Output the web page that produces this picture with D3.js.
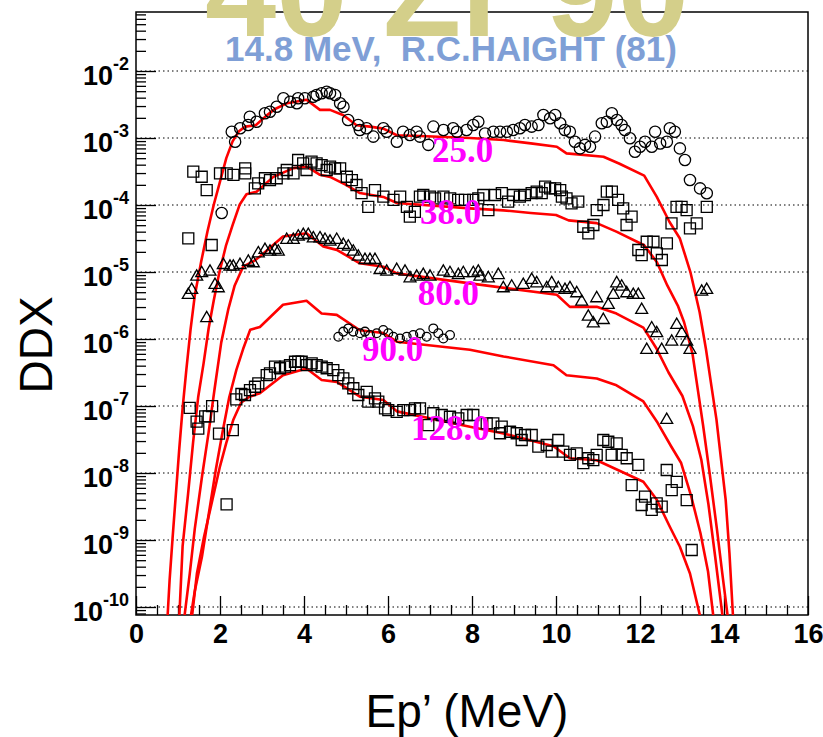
<!DOCTYPE html>
<html><head><meta charset="utf-8">
<script src="https://cdn.jsdelivr.net/npm/d3@7"></script>
<style>body{margin:0;background:#fff}svg{display:block}</style>
</head><body><svg id="c" width="823" height="737"></svg>
<script>
// ---------- data ----------
const xDomain = [0, 16];
const yDomain = [7.6e-11, 0.076];
const xMajorTicks = [0, 2, 4, 6, 8, 10, 12, 14, 16];
const yMajorTicks = [1e-10, 1e-9, 1e-8, 1e-7, 1e-6, 1e-5, 1e-4, 1e-3, 1e-2];
const yTickExponents = ["-10", "-9", "-8", "-7", "-6", "-5", "-4", "-3", "-2"];
const angleLabels = ["25.0", "38.0", "80.0", "90.0", "128.0"];
const labelX = [7.05, 6.76, 6.71, 5.38, 6.55];
const labelY = [4.37e-4, 5.25e-5, 3.24e-6, 4.68e-7, 3.09e-8];

// measured data (Haight 81), DDX vs Ep'
const exp25 = [[2.04,7.6e-5],[2.28,1.24e-3],[2.36,8.8e-4],[2.48,1.40e-3],[2.67,1.56e-3],[2.71,2.08e-3],[2.87,1.75e-3],[3.07,2.34e-3],[3.19,2.47e-3],[3.35,2.93e-3],[3.51,3.92e-3],[3.67,3.48e-3],[3.83,3.30e-3],[3.86,3.92e-3],[4.02,3.92e-3],[4.22,4.13e-3],[4.30,4.38e-3],[4.42,4.65e-3],[4.54,4.91e-3],[4.62,4.65e-3],[4.74,4.38e-3],[4.86,3.30e-3],[4.94,2.93e-3],[5.05,1.86e-3],[5.29,1.56e-3],[5.33,1.32e-3],[5.49,1.40e-3],[5.65,1.05e-3],[5.89,1.40e-3],[5.97,1.24e-3],[6.21,8.8e-4],[6.36,1.24e-3],[6.52,1.11e-3],[6.68,1.24e-3],[6.76,1.05e-3],[6.96,7.9e-4],[7.08,1.48e-3],[7.32,1.32e-3],[7.55,1.40e-3],[7.64,1.24e-3],[7.87,1.32e-3],[8.03,1.56e-3],[8.15,1.75e-3],[8.31,1.17e-3],[8.51,1.24e-3],[8.67,1.24e-3],[8.83,1.24e-3],[8.98,1.32e-3],[9.14,1.40e-3],[9.26,1.56e-3],[9.42,1.48e-3],[9.58,1.56e-3],[9.70,2.20e-3],[9.86,1.97e-3],[9.98,2.20e-3],[10.10,1.66e-3],[10.21,1.32e-3],[10.33,1.24e-3],[10.45,8.8e-4],[10.57,7.0e-4],[10.69,7.9e-4],[10.81,7.4e-4],[10.93,1.05e-3],[11.09,1.66e-3],[11.21,1.75e-3],[11.33,2.34e-3],[11.45,1.86e-3],[11.56,1.56e-3],[11.64,1.32e-3],[11.76,9.9e-4],[11.88,6.25e-4],[12.00,7.4e-4],[12.12,8.8e-4],[12.28,7.4e-4],[12.36,1.24e-3],[12.48,8.3e-4],[12.64,8.8e-4],[12.71,1.40e-3],[12.83,1.24e-3],[12.95,7.0e-4],[13.07,4.7e-4],[13.19,2.36e-4],[13.43,1.77e-4],[13.59,1.50e-4]];
const exp38 = [[1.245,3.18e-5],[1.364,3.14e-4],[1.564,2.64e-4],[1.683,1.67e-4],[1.802,2.53e-5],[2.0,2.97e-4],[2.16,2.97e-4],[2.32,2.81e-4],[2.60,3.53e-4],[2.60,2.97e-4],[2.83,1.77e-4],[2.91,2.11e-4],[3.07,2.51e-4],[3.19,2.36e-4],[3.35,2.51e-4],[3.51,2.97e-4],[3.59,3.33e-4],[3.75,2.97e-4],[3.86,4.70e-4],[3.98,4.19e-4],[4.06,3.33e-4],[4.18,4.43e-4],[4.30,4.19e-4],[4.42,3.95e-4],[4.54,3.33e-4],[4.62,3.73e-4],[4.74,3.53e-4],[4.86,3.53e-4],[5.02,2.64e-4],[5.14,2.36e-4],[5.25,1.99e-4],[5.37,1.50e-4],[5.53,9.4e-5],[5.69,1.67e-4],[5.89,1.33e-4],[6.13,1.19e-4],[6.29,1.33e-4],[6.45,9.4e-5],[6.52,6.7e-5],[6.64,7.9e-5],[6.76,1.33e-4],[6.84,1.41e-4],[7.0,1.33e-4],[7.12,1.26e-4],[7.32,1.33e-4],[7.48,1.26e-4],[7.67,1.19e-4],[7.83,1.19e-4],[8.03,1.19e-4],[8.15,1.26e-4],[8.27,1.41e-4],[8.39,8.4e-5],[8.55,1.41e-4],[8.71,1.50e-4],[8.86,1.12e-4],[8.98,1.41e-4],[9.14,1.33e-4],[9.26,1.41e-4],[9.42,1.50e-4],[9.54,1.58e-4],[9.66,1.50e-4],[9.74,1.88e-4],[9.86,1.77e-4],[9.98,1.77e-4],[10.10,1.67e-4],[10.14,1.33e-4],[10.25,1.26e-4],[10.37,1.06e-4],[10.53,1.12e-4],[10.65,4.74e-5],[10.77,3.78e-5],[10.89,5.03e-5],[10.97,8.4e-5],[11.13,1.0e-4],[11.21,1.58e-4],[11.33,1.58e-4],[11.48,1.19e-4],[11.60,8.9e-5],[11.68,5.03e-5],[11.80,6.7e-5],[11.96,2.13e-5],[12.04,1.79e-5],[12.16,2.83e-5],[12.32,2.83e-5],[12.40,1.90e-5],[12.52,1.51e-5],[12.64,2.68e-5],[12.75,5.33e-5],[12.87,9.4e-5],[12.99,9.4e-5],[13.11,8.4e-5],[13.19,4.49e-5],[13.35,5.33e-5],[13.59,9.4e-5]];
const exp80 = [[1.245,4.54e-6],[1.326,5.39e-6],[1.445,8.5e-6],[1.564,9.6e-6],[1.683,2.04e-6],[1.762,1.01e-5],[1.881,6.4e-6],[1.960,5.71e-6],[2.079,1.27e-5],[2.238,1.20e-5],[2.317,1.20e-5],[2.476,1.27e-5],[2.674,1.42e-5],[2.793,1.35e-5],[2.912,1.90e-5],[3.071,2.13e-5],[3.190,2.01e-5],[3.310,2.13e-5],[3.388,2.01e-5],[3.588,3.01e-5],[3.745,3.01e-5],[3.864,3.37e-5],[3.983,3.56e-5],[4.102,3.56e-5],[4.221,3.18e-5],[4.381,3.18e-5],[4.5,3.01e-5],[4.619,2.83e-5],[4.779,3.01e-5],[4.936,2.53e-5],[5.055,2.39e-5],[5.174,2.01e-5],[5.293,1.69e-5],[5.452,1.51e-5],[5.571,1.51e-5],[5.690,1.51e-5],[5.810,1.07e-5],[5.969,1.01e-5],[6.207,1.07e-5],[6.405,1.01e-5],[6.524,8.05e-6],[6.683,8.5e-6],[6.840,9.0e-6],[7.0,8.5e-6],[7.317,1.01e-5],[7.476,9.6e-6],[7.674,9.0e-6],[7.793,9.6e-6],[8.031,9.6e-6],[8.150,1.01e-5],[8.19,8.5e-6],[8.388,8.05e-6],[8.626,9.0e-6],[8.745,5.71e-6],[8.945,6.04e-6],[9.221,6.4e-6],[9.421,7.6e-6],[9.540,6.78e-6],[9.779,5.71e-6],[9.898,6.78e-6],[10.055,5.71e-6],[10.214,5.39e-6],[10.333,5.71e-6],[10.493,4.81e-6],[10.612,3.61e-6],[10.769,2.15e-6],[10.888,1.71e-6],[10.969,4.05e-6],[11.126,1.92e-6],[11.245,3.22e-6],[11.364,4.54e-6],[11.445,6.78e-6],[11.564,6.04e-6],[11.683,4.81e-6],[11.840,4.54e-6],[11.960,4.54e-6],[12.040,2.71e-6],[12.160,6.86e-7],[12.279,1.44e-6],[12.398,1.22e-6],[12.517,6.86e-7],[12.636,6.18e-8],[12.755,9.1e-7],[12.874,1.62e-6],[12.993,1.22e-6],[13.112,9.1e-7],[13.190,6.86e-7],[13.469,5.08e-6],[13.588,5.39e-6]];
const exp90 = [[4.817,1.08e-6],[4.936,1.29e-6],[5.055,1.44e-6],[5.174,1.29e-6],[5.333,1.22e-6],[5.452,1.29e-6],[5.571,1.15e-6],[5.731,1.22e-6],[5.888,1.36e-6],[6.007,1.22e-6],[6.126,1.08e-6],[6.286,1.02e-6],[6.445,1.08e-6],[6.602,1.15e-6],[6.762,1.22e-6],[6.921,1.08e-6],[7.079,1.44e-6],[7.198,1.22e-6],[7.317,1.02e-6],[7.476,1.15e-6]];
const exp128 = [[1.279,9.4e-8],[1.443,5.85e-8],[1.483,4.61e-8],[1.648,7.0e-8],[1.731,7.0e-8],[1.812,9.98e-8],[1.976,3.86e-8],[2.157,3.40e-9],[2.305,4.36e-8],[2.388,1.26e-7],[2.51,1.51e-7],[2.595,1.46e-7],[2.714,1.73e-7],[2.833,1.94e-7],[2.912,2.18e-7],[3.112,2.90e-7],[3.190,3.08e-7],[3.310,3.86e-7],[3.429,3.66e-7],[3.548,3.86e-7],[3.667,4.09e-7],[3.786,4.58e-7],[3.864,4.58e-7],[3.945,4.58e-7],[4.064,4.09e-7],[4.183,4.34e-7],[4.302,4.09e-7],[4.421,3.86e-7],[4.540,3.66e-7],[4.698,3.44e-7],[4.817,2.90e-7],[4.936,2.59e-7],[5.055,2.18e-7],[5.174,1.84e-7],[5.293,1.46e-7],[5.493,1.63e-7],[5.531,1.16e-7],[5.690,1.30e-7],[5.769,1.16e-7],[5.929,9.24e-8],[6.007,8.7e-8],[6.207,8.2e-8],[6.364,8.7e-8],[6.524,8.7e-8],[6.643,9.24e-8],[6.762,9.24e-8],[6.960,5.2e-8],[7.079,7.8e-8],[7.279,7.34e-8],[7.476,6.92e-8],[7.674,6.55e-8],[7.874,7.34e-8],[8.031,7.34e-8],[8.350,5.52e-8],[8.507,5.52e-8],[8.707,4.91e-8],[8.667,3.92e-8],[8.905,4.13e-8],[9.064,3.92e-8],[9.183,3.11e-8],[9.262,3.69e-8],[9.421,3.69e-8],[9.579,2.47e-8],[9.779,2.62e-8],[9.898,2.08e-8],[10.055,3.11e-8],[10.174,2.08e-8],[10.333,1.86e-8],[10.493,1.97e-8],[10.650,1.40e-8],[10.769,1.66e-8],[10.888,1.56e-8],[10.969,1.86e-8],[11.126,3.11e-8],[11.245,2.93e-8],[11.445,2.77e-8],[11.326,1.86e-8],[11.564,1.86e-8],[11.683,1.66e-8],[11.960,1.32e-8],[11.802,6.6e-9],[12.119,4.43e-9],[12.040,3.33e-9],[12.279,2.81e-9],[12.398,3.53e-9],[12.517,3.14e-9],[12.636,1.11e-8],[12.874,7.4e-9],[12.755,5.57e-9],[13.112,3.95e-9],[13.231,7.1e-10]];

// calculated curves
const calc25 = [[0.75,6.92e-11],[0.8,2.51e-10],[0.87,1.05e-9],[0.95,4.9e-9],[1.03,2.29e-8],[1.11,9.33e-8],[1.2,3.55e-7],[1.3,1.41e-6],[1.4,4.47e-6],[1.55,1.41e-5],[1.7,3.98e-5],[1.85,1.0e-4],[2.0,2.24e-4],[2.15,5.01e-4],[2.3,8.91e-4],[2.45,1.26e-3],[2.6,1.48e-3],[2.85,1.55e-3],[3.1,2.14e-3],[3.3,2.69e-3],[3.6,3.31e-3],[3.8,3.47e-3],[4.06,3.72e-3],[4.38,2.63e-3],[4.62,2.63e-3],[4.94,2.19e-3],[5.25,1.55e-3],[5.57,1.48e-3],[5.89,1.38e-3],[6.21,1.10e-3],[6.76,1.07e-3],[7.95,1.0e-3],[8.75,9.33e-4],[9.4,8.32e-4],[10.02,7.41e-4],[10.25,5.89e-4],[11.13,5.25e-4],[11.5,4.17e-4],[12.1,2.75e-4],[12.4,1.32e-4],[12.7,5.62e-5],[12.95,3.16e-5],[13.2,1.0e-5],[13.42,2.51e-6],[13.57,7.08e-7],[13.7,2.0e-7],[13.82,6.31e-8],[13.93,1.58e-8],[14.04,3.98e-9],[14.13,6.31e-10],[14.22,6.31e-11]];
const calc38 = [[1.03,6.92e-11],[1.11,8.13e-10],[1.24,4.9e-9],[1.36,2.88e-8],[1.48,1.35e-7],[1.61,4.37e-7],[1.73,1.45e-6],[1.85,3.72e-6],[1.98,9.55e-6],[2.14,2.45e-5],[2.3,5.01e-5],[2.47,1.02e-4],[2.63,1.45e-4],[2.87,1.58e-4],[3.27,2.63e-4],[3.75,3.55e-4],[4.08,3.72e-4],[4.38,2.82e-4],[4.62,2.63e-4],[5.0,2.0e-4],[5.33,1.51e-4],[5.89,1.32e-4],[6.21,1.07e-4],[7.95,8.91e-5],[8.75,8.32e-5],[9.4,7.59e-5],[10.0,7.08e-5],[10.3,5.89e-5],[10.97,5.37e-5],[11.45,3.98e-5],[12.1,2.51e-5],[12.4,1.41e-5],[12.65,6.31e-6],[12.9,3.16e-6],[13.05,1.78e-6],[13.25,6.03e-7],[13.38,1.70e-7],[13.5,5.25e-8],[13.67,8.71e-9],[13.83,1.48e-9],[13.96,3.16e-10],[14.1,6.31e-11]];
const calc80 = [[1.15,6.92e-11],[1.28,3.16e-10],[1.4,1.48e-9],[1.57,8.71e-9],[1.73,4.07e-8],[1.87,1.78e-7],[2.03,8.91e-7],[2.2,2.82e-6],[2.35,6.31e-6],[2.55,1.20e-5],[2.8,1.45e-5],[2.95,1.70e-5],[3.5,3.39e-5],[4.06,3.80e-5],[4.46,2.40e-5],[4.78,2.14e-5],[5.33,1.35e-5],[5.89,1.20e-5],[6.21,9.55e-6],[7.95,6.76e-6],[10.02,4.57e-6],[10.33,3.02e-6],[10.97,3.02e-6],[11.44,2.40e-6],[12.08,1.48e-6],[12.4,7.08e-7],[12.68,3.16e-7],[13.01,1.41e-7],[13.26,5.01e-8],[13.46,1.58e-8],[13.63,3.39e-9],[13.79,5.62e-10],[13.97,6.92e-11]];
const calc90 = [[1.3,6.92e-11],[1.4,1.74e-10],[1.57,5.62e-10],[1.73,2.40e-9],[1.9,1.12e-8],[2.06,4.07e-8],[2.22,1.35e-7],[2.39,3.47e-7],[2.55,7.08e-7],[2.72,1.38e-6],[2.95,1.51e-6],[3.5,3.24e-6],[4.06,3.72e-6],[4.42,2.40e-6],[4.78,2.29e-6],[5.33,1.35e-6],[5.89,1.23e-6],[6.21,9.12e-7],[7.95,6.92e-7],[8.75,5.50e-7],[9.94,4.07e-7],[10.25,2.88e-7],[10.97,2.57e-7],[11.44,2.04e-7],[12.08,1.17e-7],[12.42,5.62e-8],[12.74,2.51e-8],[12.98,1.41e-8],[13.22,4.47e-9],[13.44,1.26e-9],[13.62,3.39e-10],[13.75,6.92e-11]];
const calc128 = [[1.33,6.92e-11],[1.45,3.16e-10],[1.62,1.12e-9],[1.82,3.98e-9],[2.0,1.26e-8],[2.15,2.82e-8],[2.32,6.31e-8],[2.5,1.12e-7],[2.7,1.38e-7],[2.95,1.55e-7],[3.5,2.88e-7],[4.06,3.63e-7],[4.42,2.45e-7],[4.78,2.29e-7],[5.33,1.38e-7],[5.89,1.23e-7],[6.21,8.32e-8],[7.95,4.90e-8],[8.75,3.89e-8],[9.94,2.51e-8],[10.33,1.66e-8],[10.97,1.55e-8],[12.08,7.41e-9],[12.4,3.98e-9],[12.71,1.58e-9],[12.95,7.94e-10],[13.19,3.16e-10],[13.44,6.92e-11]];

// ---------- drawing ----------
const svg = d3.select("#c");
const W = 823, H = 737;
const L = 136, R = 808, T = 12, B = 615;
const x = d3.scaleLinear(xDomain, [L, R]);
const y = d3.scaleLog(yDomain, [B, T]);

svg.append("rect").attr("width", W).attr("height", H).attr("fill", "#fff");
svg.append("defs").append("clipPath").attr("id", "clip")
  .append("rect").attr("x", L).attr("y", T).attr("width", R - L).attr("height", B - T);

// grid
svg.append("g").selectAll("line").data(yMajorTicks).join("line")
  .attr("x1", L).attr("x2", R).attr("y1", d => y(d)).attr("y2", d => y(d))
  .attr("stroke", "#000").attr("stroke-width", 1).attr("stroke-dasharray", "1.5,3");

// minor ticks
const xMinor = d3.range(0, 16.01, 0.5).filter(v => v % 2 !== 0);
const yMinor = [];
for (let e = -11; e <= -2; e++) for (let m = 2; m <= 9; m++) {
  const v = m * Math.pow(10, e);
  if (v >= yDomain[0] && v <= yDomain[1]) yMinor.push(v);
}
const axisStyle = g => { g.select(".domain").remove(); g.selectAll("line").attr("stroke", "#000").attr("stroke-width", 1.3); };

svg.append("g").attr("transform", `translate(0,${B})`)
  .call(d3.axisBottom(x).tickValues(xMinor).tickSize(-10).tickFormat(""))
  .call(axisStyle);
const gx = svg.append("g").attr("transform", `translate(0,${B})`)
  .call(d3.axisBottom(x).tickValues(xMajorTicks).tickSize(-19).tickPadding(9).tickFormat(d3.format("d")))
  .call(axisStyle);
gx.selectAll("text").attr("font-family", "Liberation Sans, Arial, sans-serif")
  .attr("font-weight", "bold").attr("font-size", 27).attr("fill", "#000");

svg.append("g").attr("transform", `translate(${L},0)`)
  .call(d3.axisLeft(y).tickValues(yMinor).tickSize(-10).tickFormat(""))
  .call(axisStyle);
const gy = svg.append("g").attr("transform", `translate(${L},0)`)
  .call(d3.axisLeft(y).tickValues(yMajorTicks).tickSize(-20).tickFormat(""))
  .call(axisStyle);
gy.selectAll(".tick").each(function(d, i) {
  const t = d3.select(this).select("text")
    .attr("x", -7).attr("dy", null).attr("y", 13)
    .attr("text-anchor", "end")
    .attr("font-family", "Liberation Sans, Arial, sans-serif")
    .attr("font-weight", "bold").attr("fill", "#000");
  t.text(null);
  t.append("tspan").attr("font-size", 27).text("10");
  t.append("tspan").attr("font-size", 18).attr("dy", -15).text(yTickExponents[i]);
});

// frame
svg.append("rect").attr("x", L).attr("y", T).attr("width", R - L).attr("height", B - T)
  .attr("fill", "none").attr("stroke", "#000").attr("stroke-width", 1.5);

const plot = svg.append("g").attr("clip-path", "url(#clip)");
const line = d3.line().x(d => x(d[0])).y(d => y(d[1]));
[calc25, calc38, calc80, calc90, calc128].forEach(c => {
  plot.append("path").attr("d", line(c)).attr("fill", "none")
    .attr("stroke", "#ff0000").attr("stroke-width", 2.6).attr("stroke-linejoin", "round");
});

const mk = (data, type, size) => {
  plot.append("g").selectAll("path").data(data).join("path")
    .attr("transform", d => `translate(${x(d[0])},${y(d[1])})`)
    .attr("d", d3.symbol().type(type).size(size))
    .attr("fill", "none").attr("stroke", "#000").attr("stroke-width", 1.3);
};
mk(exp25, d3.symbolCircle, 100);
mk(exp38, d3.symbolSquare, 121);
mk(exp80, d3.symbolTriangle, 62);
mk(exp90, d3.symbolCircle, 60);
mk(exp128, d3.symbolSquare, 121);

// angle labels
svg.append("g").selectAll("text").data(angleLabels).join("text")
  .attr("x", (d, i) => x(labelX[i])).attr("y", (d, i) => y(labelY[i]))
  .attr("font-family", "Liberation Serif, Times New Roman, serif")
  .attr("font-weight", "bold").attr("font-size", 35).attr("fill", "#ff00ff")
  .text(d => d);

// titles
svg.append("text").attr("x", 447).attr("y", 36).attr("text-anchor", "middle")
  .attr("font-family", "Liberation Sans, Arial, sans-serif").attr("font-weight", "bold")
  .attr("font-size", 128).attr("fill", "#d4cf8a").text("40 Zr 90");
svg.append("text").attr("x", 451).attr("y", 61).attr("text-anchor", "middle")
  .attr("font-family", "Liberation Sans, Arial, sans-serif").attr("font-weight", "bold")
  .attr("font-size", 35).attr("fill", "#7f9fd6").style("white-space", "pre")
  .text("14.8 MeV,  R.C.HAIGHT (81)");

svg.append("text").attr("transform", "translate(52,345) rotate(-90)").attr("text-anchor", "middle")
  .attr("font-family", "Liberation Sans, Arial, sans-serif").attr("font-size", 46).attr("fill", "#000")
  .text("DDX");
svg.append("text").attr("x", 467).attr("y", 727).attr("text-anchor", "middle")
  .attr("font-family", "Liberation Sans, Arial, sans-serif").attr("font-size", 46).attr("fill", "#000")
  .text("Ep’ (MeV)");
</script></body></html>
